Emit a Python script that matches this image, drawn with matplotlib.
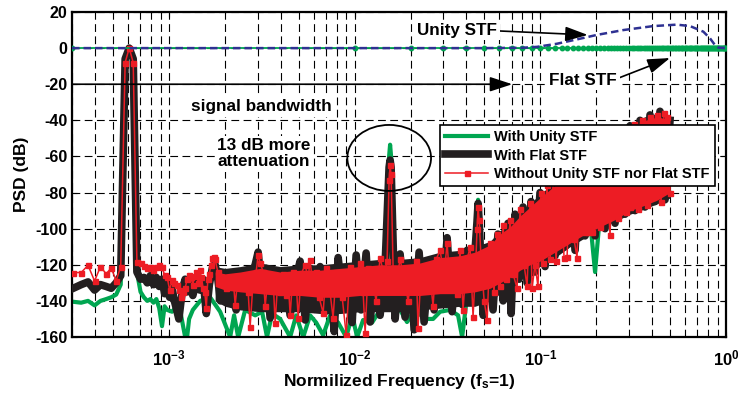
import matplotlib

matplotlib.use("Agg")
import matplotlib.pyplot as plt  # noqa: E402
from matplotlib.patches import Ellipse  # noqa: E402

# PSD traces: (normalized frequency, dB)
green_psd = [
    (3.05e-4, -140.5), (3.36e-4, -141.0), (3.66e-4, -140.0), (3.97e-4, -142.5), (4.27e-4, -140.0),
    (4.58e-4, -139.0), (4.88e-4, -138.0), (5.19e-4, -136.5), (5.49e-4, -131.0), (5.80e-4, -6.0),
    (6.10e-4, 0.0), (6.41e-4, -6.0), (6.71e-4, -124.0), (7.02e-4, -135.0), (7.32e-4, -138.0),
    (7.63e-4, -140.0), (7.93e-4, -139.0), (8.24e-4, -141.0), (8.54e-4, -139.0), (8.85e-4, -144.0),
    (9.16e-4, -154.0), (9.46e-4, -143.0), (9.77e-4, -145.0), (1.038e-3, -146.0), (1.099e-3, -143.0),
    (1.160e-3, -148.0), (1.221e-3, -160.0), (1.251e-3, -160.0), (1.282e-3, -150.0), (1.343e-3, -145.0),
    (1.471e-3, -140.0), (1.664e-3, -138.0), (1.884e-3, -146.0), (2.133e-3, -160.0), (2.24e-3, -148.0),
    (2.356e-3, -160.0), (2.57e-3, -145.0), (2.909e-3, -148.0), (3.17e-3, -146.0), (3.37e-3, -160.0),
    (3.59e-3, -147.0), (3.965e-3, -150.0), (4.49e-3, -160.0), (4.84e-3, -148.0), (5.28e-3, -160.0),
    (5.75e-3, -148.0), (6.2e-3, -152.0), (6.76e-3, -159.0), (7.37e-3, -148.0), (8.14e-3, -152.0),
    (9.0e-3, -160.0), (9.68e-3, -148.0), (1.031e-2, -160.0), (1.11e-2, -150.6), (1.241e-2, -152.0),
    (1.37e-2, -145.0), (1.494e-2, -130.0), (1.532e-2, -60.0), (1.551e-2, -53.5), (1.57e-2, -60.0),
    (1.63e-2, -135.0), (1.756e-2, -145.0), (1.913e-2, -151.7), (2.11e-2, -145.0), (2.394e-2, -150.0),
    (2.643e-2, -150.0), (2.884e-2, -146.0), (3.264e-2, -145.0), (3.604e-2, -148.0), (3.79e-2, -160.0),
    (3.98e-2, -142.0), (4.26e-2, -140.0), (4.56e-2, -95.0), (4.62e-2, -84.0), (4.68e-2, -95.0),
    (4.98e-2, -140.0), (5.70e-2, -135.0), (6.45e-2, -128.0), (7.31e-2, -120.0), (8.27e-2, -112.0),
    (9.36e-2, -117.0), (0.106, -105.0), (0.1277, -100.0), (0.1538, -95.0), (0.1852, -95.0),
    (0.1971, -124.0), (0.2096, -92.0), (0.2686, -85.0), (0.3442, -80.0), (0.441, -78.0),
    (0.4993, -80.0),
]

black_psd = [
    (3.05e-4, -133.0), (3.36e-4, -131.0), (3.66e-4, -129.5), (3.97e-4, -134.0), (4.27e-4, -131.0),
    (4.58e-4, -132.0), (4.88e-4, -133.0), (5.19e-4, -130.0), (5.49e-4, -126.0), (5.80e-4, -6.0),
    (6.10e-4, 0.0), (6.41e-4, -6.0), (6.71e-4, -124.0), (7.02e-4, -128.0), (7.32e-4, -127.0),
    (7.63e-4, -130.0), (7.93e-4, -126.0), (8.24e-4, -131.0), (8.54e-4, -127.0), (8.85e-4, -132.0),
    (9.16e-4, -128.0), (9.46e-4, -136.0), (9.77e-4, -131.0), (1.007e-3, -138.0), (1.038e-3, -133.0),
    (1.068e-3, -140.0), (1.099e-3, -145.0), (1.129e-3, -150.0), (1.160e-3, -140.0), (1.190e-3, -132.0),
    (1.221e-3, -128.0), (1.251e-3, -135.0), (1.282e-3, -130.0), (1.343e-3, -137.0), (1.404e-3, -129.0),
    (1.465e-3, -134.0), (1.526e-3, -128.0), (1.587e-3, -147.0), (1.648e-3, -131.0), (1.709e-3, -122.0),
    (1.770e-3, -120.0), (1.831e-3, -128.0), (1.892e-3, -140.0), (1.953e-3, -133.0), (2.014e-3, -129.0),
    (2.075e-3, -138.0), (2.136e-3, -132.0), (2.298e-3, -145.0), (2.415e-3, -128.0), (2.57e-3, -137.0),
    (2.733e-3, -127.0), (2.909e-3, -120.0), (3.018e-3, -113.0), (3.17e-3, -135.0), (3.34e-3, -122.0),
    (3.503e-3, -149.5), (3.727e-3, -128.0), (3.965e-3, -140.0), (4.17e-3, -124.0), (4.49e-3, -148.0),
    (4.78e-3, -129.0), (5.08e-3, -118.0), (5.41e-3, -150.6), (5.75e-3, -125.0), (6.12e-3, -140.0),
    (6.51e-3, -121.0), (6.93e-3, -146.0), (7.37e-3, -126.0), (7.75e-3, -157.0), (8.14e-3, -116.0),
    (8.67e-3, -140.0), (9.22e-3, -122.0), (9.68e-3, -152.0), (1.018e-2, -114.6), (1.082e-2, -145.0),
    (1.152e-2, -113.5), (1.21e-2, -151.7), (1.288e-2, -121.0), (1.37e-2, -148.0), (1.458e-2, -120.0),
    (1.532e-2, -66.0), (1.551e-2, -62.0), (1.57e-2, -66.0), (1.651e-2, -150.0), (1.756e-2, -114.0),
    (1.868e-2, -149.0), (1.988e-2, -120.0), (2.09e-2, -156.0), (2.222e-2, -113.0), (2.365e-2, -151.7),
    (2.515e-2, -120.0), (2.677e-2, -145.0), (2.85e-2, -118.0), (2.995e-2, -140.0), (3.145e-2, -105.0),
    (3.346e-2, -146.0), (3.56e-2, -115.0), (3.79e-2, -142.0), (4.03e-2, -112.0), (4.26e-2, -140.0),
    (4.56e-2, -96.0), (4.62e-2, -86.0), (4.68e-2, -96.0), (4.92e-2, -148.0), (5.23e-2, -115.0),
    (5.56e-2, -145.0), (5.91e-2, -103.0), (6.30e-2, -140.0), (6.70e-2, -97.0), (6.96e-2, -147.0),
    (7.31e-2, -92.0), (7.68e-2, -128.0), (8.07e-2, -88.0), (8.48e-2, -130.0), (8.91e-2, -85.0),
    (9.36e-2, -124.0), (9.96e-2, -80.0), (0.1060, -121.0), (0.1128, -76.0), (0.1200, -115.0),
    (0.1277, -72.0), (0.1359, -110.0), (0.1445, -67.0), (0.1538, -112.0), (0.1636, -63.0),
    (0.1741, -104.0), (0.1852, -59.0), (0.1971, -104.0), (0.2096, -55.0), (0.2231, -100.0),
    (0.2373, -52.0), (0.2525, -97.0), (0.2686, -47.0), (0.2858, -92.0), (0.3041, -43.0),
    (0.3235, -90.0), (0.3442, -40.0), (0.3662, -88.0), (0.3897, -37.0), (0.4146, -85.0),
    (0.441, -35.0), (0.4693, -84.0), (0.4993, -40.0),
]

red_psd = [
    (3.05e-4, -124.3), (3.36e-4, -124.3), (3.66e-4, -120.3), (3.97e-4, -129.0), (4.27e-4, -121.0),
    (4.58e-4, -125.0), (4.88e-4, -121.8), (5.19e-4, -128.8), (5.49e-4, -121.0), (5.80e-4, -8.0),
    (6.10e-4, 0.0), (6.41e-4, -8.0), (6.71e-4, -118.3), (7.02e-4, -119.0), (7.32e-4, -120.5),
    (7.63e-4, -121.8), (7.93e-4, -121.0), (8.24e-4, -123.0), (8.54e-4, -121.0), (8.85e-4, -120.0),
    (9.16e-4, -121.5), (9.46e-4, -125.6), (9.77e-4, -127.0), (1.007e-3, -134.0), (1.038e-3, -128.4),
    (1.068e-3, -130.0), (1.099e-3, -131.0), (1.129e-3, -134.0), (1.160e-3, -137.7), (1.190e-3, -135.0),
    (1.221e-3, -133.0), (1.251e-3, -128.0), (1.282e-3, -125.6), (1.312e-3, -127.0), (1.343e-3, -131.0),
    (1.373e-3, -126.0), (1.404e-3, -124.0), (1.434e-3, -130.0), (1.465e-3, -123.0), (1.495e-3, -127.0),
    (1.526e-3, -133.0), (1.556e-3, -135.0), (1.587e-3, -144.0), (1.617e-3, -128.0), (1.648e-3, -125.0),
    (1.678e-3, -120.0), (1.709e-3, -116.0), (1.740e-3, -115.5), (1.770e-3, -117.0), (1.831e-3, -124.0),
    (1.892e-3, -130.0), (1.953e-3, -128.0), (2.014e-3, -133.0), (2.075e-3, -132.0), (2.136e-3, -127.0),
    (2.214e-3, -127.0), (2.27e-3, -142.3), (2.356e-3, -126.0), (2.446e-3, -132.0), (2.57e-3, -126.6),
    (2.667e-3, -135.0), (2.733e-3, -154.3), (2.837e-3, -129.0), (2.944e-3, -124.0), (3.018e-3, -114.6),
    (3.095e-3, -119.0), (3.21e-3, -123.8), (3.293e-3, -143.0), (3.418e-3, -126.0), (3.503e-3, -130.0),
    (3.635e-3, -128.0), (3.727e-3, -152.3), (3.867e-3, -126.0), (3.965e-3, -135.0), (4.115e-3, -125.0),
    (4.27e-3, -137.0), (4.378e-3, -128.0), (4.49e-3, -147.8), (4.66e-3, -123.8), (4.84e-3, -130.0),
    (4.96e-3, -149.5), (5.15e-3, -125.0), (5.41e-3, -120.0), (5.61e-3, -128.0), (5.75e-3, -117.3),
    (5.97e-3, -133.0), (6.20e-3, -124.0), (6.43e-3, -138.0), (6.76e-3, -146.7), (7.02e-3, -122.0),
    (7.28e-3, -131.0), (7.65e-3, -149.5), (7.94e-3, -124.0), (8.24e-3, -127.0), (8.56e-3, -138.0),
    (9.0e-3, -158.9), (9.45e-3, -121.0), (9.81e-3, -130.0), (1.018e-2, -125.0), (1.069e-2, -119.0),
    (1.11e-2, -135.0), (1.138e-2, -157.8), (1.181e-2, -122.0), (1.241e-2, -128.0), (1.304e-2, -140.0),
    (1.37e-2, -116.0), (1.44e-2, -126.0), (1.494e-2, -118.0), (1.532e-2, -73.0), (1.551e-2, -65.0),
    (1.57e-2, -70.0), (1.61e-2, -122.0), (1.671e-2, -130.0), (1.756e-2, -117.0), (1.845e-2, -128.0),
    (1.939e-2, -140.0), (2.037e-2, -125.0), (2.14e-2, -118.0), (2.194e-2, -155.0), (2.278e-2, -124.0),
    (2.394e-2, -130.0), (2.515e-2, -121.0), (2.643e-2, -143.0), (2.744e-2, -117.0), (2.884e-2, -112.0),
    (3.03e-2, -126.0), (3.145e-2, -108.0), (3.264e-2, -131.0), (3.43e-2, -118.0), (3.56e-2, -136.0),
    (3.695e-2, -112.0), (3.835e-2, -145.0), (3.98e-2, -120.0), (4.18e-2, -110.0), (4.34e-2, -149.0),
    (4.50e-2, -116.0), (4.56e-2, -100.0), (4.62e-2, -88.0), (4.68e-2, -95.0), (4.80e-2, -118.0),
    (4.98e-2, -140.0), (5.17e-2, -150.6), (5.36e-2, -108.0), (5.63e-2, -135.0), (5.84e-2, -103.0),
    (6.07e-2, -132.0), (6.30e-2, -98.0), (6.54e-2, -128.0), (6.87e-2, -95.0), (7.13e-2, -125.0),
    (7.49e-2, -133.0), (7.78e-2, -89.0), (8.17e-2, -120.0), (8.48e-2, -132.0), (8.80e-2, -86.0),
    (9.02e-2, -133.0), (9.36e-2, -120.0), (9.71e-2, -132.0), (0.1008, -80.0), (0.1034, -119.0),
    (0.1086, -76.0), (0.1128, -117.0), (0.1171, -74.0), (0.1215, -118.0), (0.1277, -72.0),
    (0.1342, -116.0), (0.1393, -115.6), (0.1445, -67.0), (0.1519, -106.0), (0.1576, -116.0),
    (0.1636, -63.0), (0.1719, -102.0), (0.1806, -102.0), (0.1898, -102.0), (0.1995, -56.0),
    (0.2096, -99.0), (0.2231, -52.0), (0.2373, -103.5), (0.2494, -49.0), (0.2621, -94.0),
    (0.2754, -46.0), (0.2894, -91.0), (0.3041, -88.0), (0.3196, -42.0), (0.3359, -89.0),
    (0.353, -40.0), (0.3748, -87.0), (0.3897, -38.0), (0.4046, -82.5), (0.4252, -37.0),
    (0.4468, -85.0), (0.4638, -36.0), (0.4813, -38.0), (0.4993, -80.0),
]

# dense noise floor: upper / lower edges of the solid part of each band
band_f = [1.771e-3, 2.004e-3, 2.415e-3, 3.095e-3, 3.965e-3, 5.08e-3, 6.51e-3, 8.35e-3, 1.069e-2, 1.37e-2,
          1.756e-2, 2.25e-2, 2.884e-2, 3.695e-2, 4.44e-2, 5.36e-2, 6.07e-2, 6.87e-2, 7.78e-2, 8.80e-2,
          9.96e-2, 0.12, 0.1445, 0.1741, 0.2096, 0.2525, 0.3041, 0.3662, 0.4294, 0.4993]
red_top = [-124, -125, -124, -122, -124, -123, -123, -122, -121, -120, -120, -119, -116, -115, -113,
           -109, -103, -99, -93, -88, -83, -76, -69, -62, -56, -50, -44, -40, -38, -40]
red_bot = [-132, -134, -135, -136, -137, -137, -138, -138, -137, -137, -137, -137, -136, -136, -135,
           -133, -130, -127, -123, -120, -118, -113, -108, -103, -99, -95, -90, -87, -84, -80]
black_top = [-121, -122, -121, -119, -121, -120, -120, -119, -118, -117, -117, -116, -113, -112, -110,
             -107, -101, -97, -91, -86, -81, -74, -67, -60, -54, -48, -42, -38, -36, -38]
black_bot = [-140, -143, -145, -146, -146, -146, -147, -147, -146, -146, -146, -145, -144, -143, -143,
             -140, -136, -134, -128, -124, -121, -116, -110, -105, -100, -96, -92, -89, -86, -83]

# signal transfer functions
unity_stf_f = [3.0e-4, 0.01, 0.05, 0.08, 0.096, 0.1226, 0.157, 0.2014, 0.28, 0.406, 0.543, 0.64,
               0.755, 0.82, 0.872, 0.909, 1.0]
unity_stf_db = [0.0, 0.0, 0.0, 0.2, 0.7, 2.4, 4.8, 7.3, 10.0, 12.2, 13.0, 12.2, 9.1, 5.4, 1.7, 0.3, 0.0]
flat_stf_f = [3.0e-4,
              0.01, 0.02, 0.03, 0.04, 0.05, 0.06, 0.07, 0.08, 0.09, 0.10,
              0.11, 0.12, 0.13, 0.14, 0.15, 0.16, 0.17, 0.18, 0.19, 0.20,
              0.21, 0.22, 0.23, 0.24, 0.25, 0.26, 0.27, 0.28, 0.29, 0.30,
              0.31, 0.32, 0.33, 0.34, 0.35, 0.36, 0.37, 0.38, 0.39, 0.40,
              0.41, 0.42, 0.43, 0.44, 0.45, 0.46, 0.47, 0.48, 0.49, 0.50,
              0.51, 0.52, 0.53, 0.54, 0.55, 0.56, 0.57, 0.58, 0.59, 0.60,
              0.61, 0.62, 0.63, 0.64, 0.65, 0.66, 0.67, 0.68, 0.69, 0.70,
              0.71, 0.72, 0.73, 0.74, 0.75, 0.76, 0.77, 0.78, 0.79, 0.80,
              0.81, 0.82, 0.83, 0.84, 0.85, 0.86, 0.87, 0.88, 0.89, 0.90,
              0.91, 0.92, 0.93, 0.94, 0.95, 0.96, 0.97, 0.98, 0.99, 1.00]
flat_stf_db = [0.0] * len(flat_stf_f)

labels = ["With Unity STF", "With Flat STF", "Without Unity STF nor Flat STF"]
GREEN = "#00a651"
BLACK = "#231f20"
RED = "#ed1c24"
BLUE = "#2e3192"

plt.rcParams["font.family"] = ["Liberation Sans", "DejaVu Sans"]
plt.rcParams["font.weight"] = "bold"
plt.rcParams["axes.unicode_minus"] = False
plt.rcParams["mathtext.fontset"] = "custom"
plt.rcParams["mathtext.rm"] = "Liberation Sans:bold"
plt.rcParams["mathtext.bf"] = "Liberation Sans:bold"
plt.rcParams["mathtext.default"] = "rm"

fig = plt.figure(figsize=(7.38, 3.96), dpi=100)
ax = fig.add_axes([72 / 738, 59 / 396, 654 / 738, 325 / 396])
ax.set_xscale("log")
ax.set_axisbelow(True)

gf, gd = zip(*green_psd)
bf, bd = zip(*black_psd)
rf, rd = zip(*red_psd)

h_green, = ax.plot(gf, gd, color=GREEN, lw=3, zorder=2)
ax.fill_between(band_f, black_bot, black_top, color=BLACK, lw=0, zorder=3)
h_black, = ax.plot(bf, bd, color=BLACK, lw=5.5, zorder=3)
ax.fill_between(band_f, red_bot, red_top, color=RED, lw=0, zorder=4)
h_red, = ax.plot(rf, rd, color=RED, lw=1.1, marker="s", ms=3.6, mec=RED, mfc=RED, zorder=4)

ax.plot(flat_stf_f, flat_stf_db, color=GREEN, lw=1.3, marker="o", ms=3.2, mec=GREEN, zorder=5)
ax.plot(unity_stf_f, unity_stf_db, color=BLUE, lw=1.8, ls=(0, (3, 1.6)), zorder=6)

ax.set_xlim(3.0e-4, 1.0)
ax.set_ylim(-160, 20)
ax.set_yticks(range(-160, 21, 20))
ax.set_xticks([1e-3, 1e-2, 1e-1, 1e0],
              labels=[r"$10^{-3}$", r"$10^{-2}$", r"$10^{-1}$", r"$10^{0}$"])
ax.grid(True, which="major", color="black", lw=0.8, ls=(0, (7, 4)))
ax.grid(True, which="minor", axis="x", color="black", lw=0.8, ls=(0, (7, 4)))
ax.tick_params(which="both", direction="in", top=True, right=True)
ax.tick_params(axis="y", labelsize=11.5)
ax.tick_params(axis="x", labelsize=12, pad=8)
ax.tick_params(axis="y", which="minor", left=False, right=False)
for sp in ax.spines.values():
    sp.set_linewidth(1.6)

ax.set_xlabel(r"Normilized Frequency (f$_{s}$=1)", fontsize=12.5, fontweight="bold", labelpad=3)
ax.set_ylabel("PSD (dB)", fontsize=12.5, fontweight="bold", labelpad=4)

# annotations
arrow = dict(arrowstyle="-|>,head_length=0.55,head_width=0.18", color="black", lw=1.2,
             mutation_scale=25, shrinkA=0, shrinkB=0)
box = dict(boxstyle="square,pad=0.15", fc="white", ec="none")
ax.annotate("", xy=(0.0706, -20), xytext=(3.0e-4, -20), arrowprops=arrow, zorder=7)
ax.text(3.13e-3, -32.6, "signal bandwidth", fontsize=12.3, fontweight="bold",
        ha="center", va="center", bbox=box, zorder=7)
ax.text(3.25e-3, -58.5, "13 dB more\nattenuation", fontsize=12.3, fontweight="bold",
        ha="center", va="center", multialignment="left", linespacing=1.05, bbox=box, zorder=7)
ax.annotate("", xy=(0.18, 7.3), xytext=(0.06, 9.5), arrowprops=arrow, zorder=7)
ax.text(0.0356, 10.0, "Unity STF", fontsize=12.3, fontweight="bold", ha="center", va="center",
        bbox=box, zorder=8)
ax.annotate("", xy=(0.499, -5.5), xytext=(0.265, -16.5), arrowprops=arrow, zorder=7)
ax.text(0.17, -17.7, "Flat STF", fontsize=12.3, fontweight="bold", ha="center", va="center",
        bbox=box, zorder=8)
ax.add_patch(Ellipse((0.485, 0.551), 0.128, 0.203, transform=ax.transAxes,
                     fill=False, ec="black", lw=1.3, zorder=7))

leg = ax.legend([h_green, h_black, h_red], labels, loc="upper right",
                bbox_to_anchor=(0.983, 0.652), borderaxespad=0,
                prop={"weight": "bold", "size": 10.5}, numpoints=1, handlelength=3.0,
                handletextpad=0.4, borderpad=0.35, labelspacing=0.3, fancybox=False,
                framealpha=1)
leg.get_frame().set_edgecolor("black")
leg.get_frame().set_linewidth(1.2)
leg.set_zorder(8)

fig.savefig("out.png", dpi=100)
